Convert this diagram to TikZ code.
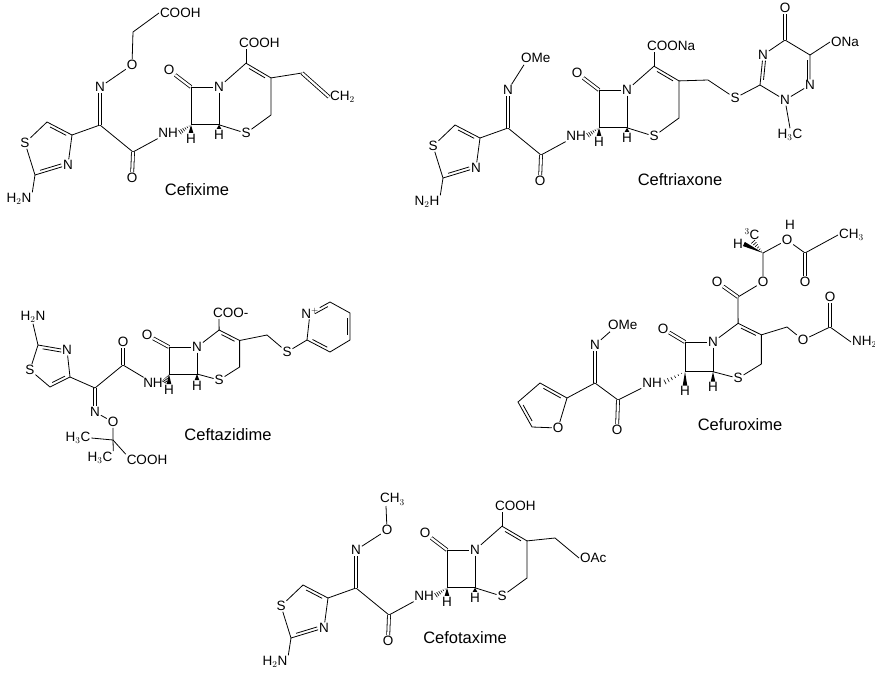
\documentclass[tikz,border=0pt]{standalone}
\usepackage{fontspec}
\setmainfont{Liberation Sans}
\usetikzlibrary{calc}
\tikzset{
 atom/.style={inner sep=0.6pt, font=\fontsize{13.5}{14}\selectfont},
 molname/.style={inner sep=0pt, font=\fontsize{16.5}{17}\selectfont},
 dbl/.style={double, double distance=2.2pt},
}
\newcommand\dbi[3]{\draw ($(#1)!0.18!(#2)!3pt!#3:(#2)$) -- ($(#2)!0.18!(#1)!3pt!-#3:(#1)$);}
\newcommand\wb[2]{\fill (#1) -- ($(#2)!2.3pt!90:(#1)$) -- ($(#2)!2.3pt!-90:(#1)$) -- cycle;}
\newcommand\wh[2]{\foreach \t in {0.15,0.3,0.45,0.6,0.75,0.9}{\draw[line width=.6pt] ($(#1)!\t!(#2)!{\t*2.8pt}!90:(#2)$) -- ($(#1)!\t!(#2)!{\t*2.8pt}!-90:(#2)$);}}
% core: #1 prefix, #2 kx six ring, #3 ky, #4 H gap
\newcommand\core[4]{%
 \coordinate (#1C8) at (-28,0);
 \node[atom] (#1N5) at (0,0) {N};
 \coordinate (#1C7) at (-28,{27*#3});
 \coordinate (#1C6) at (0,{27*#3});
 \node[atom] (#1S1) at ({27*#2},{33*#3}) {S};
 \coordinate (#1C4) at ({52*#2},{20*#3});
 \coordinate (#1C3) at ({52*#2},{-6.5*#3});
 \coordinate (#1C2) at ({27*#2},{-17*#3});
 \node[atom] (#1O8) at (-50,{-12*#3}) {O};
 \node[atom,anchor=north] (#1H7) at (-28,{27*#3+#4}) {H};
 \node[atom,anchor=north] (#1H6) at (0,{27*#3+#4-4}) {H};
 \draw (#1C8) -- (#1N5) -- (#1C6) -- (#1C7) -- (#1C8);
 \draw[dbl] (#1C8) -- (#1O8);
 \draw (#1N5) -- (#1C2) -- (#1C3) -- (#1C4) -- (#1S1) -- (#1C6);
 \dbi{#1C2}{#1C3}{-90}
 \wb{#1C7}{#1H7.north}
 \wb{#1C6}{#1H6.north}
}
% thiazole oxime side chain (stretched drawings)
\newcommand\side[2]{%
 \node[atom] (#1NH) at (-51,46) {NH};
 \wh{#1C7}{#1NH.east}
 \coordinate (#1Cam) at (-86,65);
 \node[atom] (#1Oam) at (-87,91) {O};
 \coordinate (#1Ca) at (-119,38);
 \node[atom] (#1Nox) at (-119,0) {N};
 \coordinate (#1T4) at (-147,48);
 \coordinate (#1T5) at (-172,35);
 \node[atom] (#1TS) at (-194,56) {S};
 \coordinate (#1T2) at (-184,88);
 \node[atom] (#1TN) at (-151,78) {N};
 \node[atom] (#1NH2) at (-200,112) {#2};
 \draw (#1NH) -- (#1Cam) -- (#1Ca) -- (#1T4);
 \draw[dbl] (#1Cam) -- (#1Oam);
 \draw[dbl] (#1Ca) -- (#1Nox);
 \draw (#1T4) -- (#1T5) -- (#1TS) -- (#1T2) -- (#1TN) -- (#1T4);
 \dbi{#1T4}{#1T5}{90}
 \dbi{#1T2}{#1TN}{90}
 \draw (#1T2) -- (#1NH2.north east);
}
\begin{document}
\begin{tikzpicture}[x=1pt,y=-1pt,line width=0.8pt]
\useasboundingbox (0,0) rectangle (875,677);
% ---------- Cefixime
\begin{scope}[shift={(219,87)}]
 \core{a}{1}{1.4}{8}
 \side{a}{H$_2$N}
 \node[atom] (aOox) at (-87,-22) {O};
 \coordinate (aCH2) at (-86,-55);
 \node[atom,anchor=west] (aCOOH1) at (-60,-74) {COOH};
 \draw (aNox) -- (aOox) -- (aCH2) -- (aCOOH1.west);
 \node[atom,anchor=south west] (aCOOH2) at (19,-38) {COOH};
 \draw (aC2) -- ($(aCOOH2.south west)+(8,0)$);
 \coordinate (aV1) at (83,-14);
 \node[atom,anchor=west] (aCH2v) at (110,10) {CH$_2$};
 \draw (aC3) -- (aV1);
 \draw[dbl] (aV1) -- (aCH2v.west);
 \node[molname] (aname) at (-22,103) {Cefixime};
\end{scope}
% ---------- Ceftriaxone
\begin{scope}[shift={(627,90)}]
 \core{b}{1}{1.4}{8}
 \side{b}{N$_2$H}
 \node[atom,anchor=west] (bOMe) at (-107,-32) {OMe};
 \draw (bNox) -- ($(bOMe.south west)+(4,1)$);
 \node[atom,anchor=south west] (bCOONa) at (19,-38) {COONa};
 \draw (bC2) -- ($(bCOONa.south west)+(8,0)$);
 \coordinate (bCH2) at (81,-10);
 \node[atom] (bS2) at (108,8) {S};
 \coordinate (bT3) at (133,-5);
 \node[atom] (bT4) at (136,-35) {N};
 \coordinate (bT5) at (158,-50);
 \node[atom] (bTO) at (158,-82) {O};
 \coordinate (bT6) at (183,-35);
 \node[atom,anchor=west] (bONa) at (203,-48) {ONa};
 \node[atom] (bT1) at (183,-5) {N};
 \node[atom] (bT2) at (158,10) {N};
 \node[atom] (bMe) at (163,45) {H$_3$C};
 \draw (bC3) -- (bCH2) -- (bS2) -- (bT3) -- (bT4) -- (bT5) -- (bT6) -- (bT1) -- (bT2) -- (bT3);
 \dbi{bT3}{bT4}{-90}
 \dbi{bT6}{bT1}{-90}
 \draw[dbl] (bT5) -- (bTO);
 \draw (bT6) -- (bONa.west);
 \draw (bT2) -- (bMe.north);
 \node[molname] (bname) at (53,90) {Ceftriaxone};
\end{scope}
% ---------- Cefotaxime
\begin{scope}[shift={(475,550)}]
 \core{e}{1}{1.4}{8}
 \side{e}{H$_2$N}
 \node[atom] (eOox) at (-88,-20) {O};
 \node[atom,anchor=south west] (eCH3) at (-96,-44) {CH$_3$};
 \draw (eNox) -- (eOox) -- ($(eCH3.south west)+(7,0)$);
 \node[atom,anchor=south west] (eCOOH) at (19,-38) {COOH};
 \draw (eC2) -- ($(eCOOH.south west)+(8,0)$);
 \coordinate (eCH2) at (80,-12);
 \node[atom,anchor=west] (eOAc) at (104,8) {OAc};
 \draw (eC3) -- (eCH2) -- (eOAc.west);
 \node[molname] (ename) at (-10,88) {Cefotaxime};
\end{scope}
% ---------- Ceftazidime
\begin{scope}[shift={(197,347)}]
 \core{c}{0.82}{1}{10}
 \node[atom,anchor=south west] (cCOO) at (15,-28) {COO-};
 \draw (cC2) -- ($(cCOO.south west)+(7,0)$);
 \node[atom] (cNH) at (-44,36) {NH};
 \wh{cC7}{cNH.east}
 \coordinate (cCam) at (-74,18);
 \node[atom] (cOam) at (-74,-5) {O};
 \coordinate (cCa) at (-102,41);
 \node[atom] (cNox) at (-102,65) {N};
 \node[atom] (cOox) at (-84,75) {O};
 \coordinate (cCq) at (-84,93);
 \node[atom] (cMe1) at (-119,91) {H$_3$C};
 \node[atom] (cMe2) at (-97,111) {H$_3$C};
 \node[atom] (cCOOH) at (-50,113) {COOH};
 \draw (cNH) -- (cCam) -- (cCa);
 \draw[dbl] (cCam) -- (cOam);
 \draw[dbl] (cCa) -- (cNox);
 \draw (cNox) -- (cOox) -- (cCq);
 \draw (cCq) -- (cMe1.east);
 \draw (cCq) -- (cMe2.north east);
 \draw (cCq) -- (cCOOH.north west);
 \coordinate (cT4) at (-127,30);
 \coordinate (cT5) at (-147,40);
 \node[atom] (cTS) at (-167,23) {S};
 \coordinate (cT2) at (-159,-2);
 \node[atom] (cTN) at (-130,3) {N};
 \node[atom] (cNH2) at (-164,-30) {H$_2$N};
 \draw (cCa) -- (cT4) -- (cT5) -- (cTS) -- (cT2) -- (cTN) -- (cT4);
 \dbi{cT4}{cT5}{-90}
 \dbi{cT2}{cTN}{-90}
 \draw (cT2) -- (cNH2.south);
 \coordinate (cCH2) at (70,-12);
 \node[atom] (cS2) at (90,5) {S};
 \coordinate (cP2) at (110,-7);
 \node[atom] (cPN) at (113,-34) {N$^{+}$};
 \coordinate (cP6) at (133,-45);
 \coordinate (cP5) at (153,-34);
 \coordinate (cP4) at (153,-7);
 \coordinate (cP3) at (133,5);
 \draw (cC3) -- (cCH2) -- (cS2) -- (cP2) -- (cPN) -- (cP6) -- (cP5) -- (cP4) -- (cP3) -- (cP2);
 \dbi{cPN}{cP6}{-90}
 \dbi{cP5}{cP4}{-90}
 \dbi{cP3}{cP2}{-90}
 \node[molname] (cname) at (31,88) {Ceftazidime};
\end{scope}
% ---------- Cefuroxime
\begin{scope}[shift={(713,342)}]
 \core{d}{0.93}{1.1}{14}
 \node[atom] (dNH) at (-61,41) {NH};
 \wh{dC7}{dNH.east}
 \coordinate (dCam) at (-95,58);
 \node[atom] (dOam) at (-96,88) {O};
 \coordinate (dCa) at (-118,41);
 \node[atom] (dNox) at (-118,3) {N};
 \node[atom,anchor=west] (dOMe) at (-106,-17) {OMe};
 \draw (dNH) -- (dCam) -- (dCa);
 \draw[dbl] (dCam) -- (dOam);
 \draw[dbl] (dCa) -- (dNox);
 \draw (dNox) -- ($(dOMe.south west)+(3,1)$);
 \coordinate (dF2) at (-146,56);
 \coordinate (dF3) at (-173,41);
 \coordinate (dF4) at (-195,60);
 \coordinate (dF5) at (-181,85);
 \node[atom] (dFO) at (-155,86) {O};
 \draw (dCa) -- (dF2) -- (dF3) -- (dF4) -- (dF5) -- (dFO) -- (dF2);
 \dbi{dF2}{dF3}{90}
 \dbi{dF4}{dF5}{90}
 \coordinate (dCe) at (25,-45);
 \node[atom] (dOe1) at (4,-60) {O};
 \node[atom] (dOe2) at (50,-60) {O};
 \coordinate (dCH) at (50,-89);
 \node[atom] (dHa) at (25,-98) {H};
 \node[atom] (dC3a) at (39,-108) {$^{3}$C};
 \node[atom] (dHb) at (77,-117) {H};
 \node[atom] (dOe3) at (74,-102) {O};
 \coordinate (dCac) at (92,-89);
 \node[atom] (dOac) at (92,-60) {O};
 \node[atom,anchor=west] (dCH3) at (125,-107) {CH$_3$};
 \draw (dC2) -- (dCe) -- (dOe2) -- (dCH) -- (dOe3) -- (dCac) -- (dCH3.west);
 \draw[dbl] (dCe) -- (dOe1);
 \draw[dbl] (dCac) -- (dOac);
 \wb{dCH}{dHa.east}
 \wh{dCH}{dC3a.south}
 \coordinate (dCH2) at (74,-15);
 \node[atom] (dOc) at (90,-2) {O};
 \coordinate (dCc) at (117,-15);
 \node[atom] (dOc2) at (117,-45) {O};
 \node[atom,anchor=west] (dNH2) at (138,0) {NH$_2$};
 \draw (dC3) -- (dCH2) -- (dOc) -- (dCc) -- (dNH2.west);
 \draw[dbl] (dCc) -- (dOc2);
 \node[molname] (dname) at (27,83) {Cefuroxime};
\end{scope}
\end{tikzpicture}
\end{document}
